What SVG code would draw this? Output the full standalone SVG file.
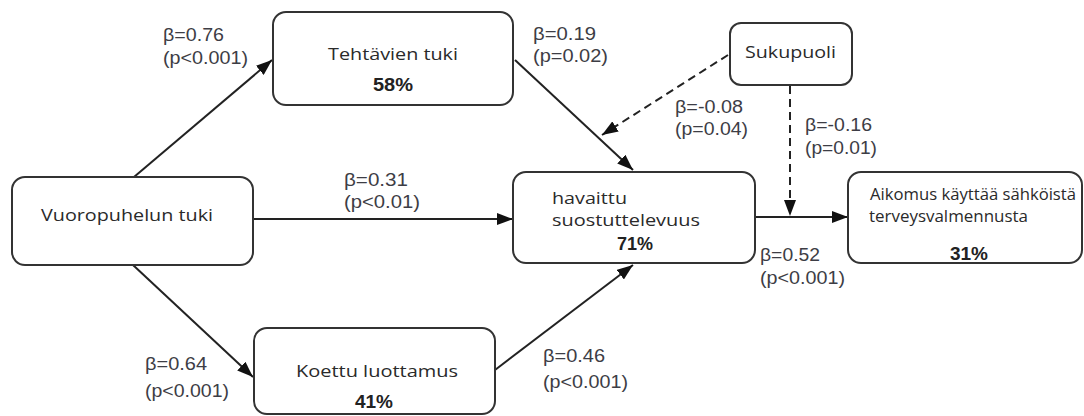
<svg xmlns="http://www.w3.org/2000/svg" width="1084" height="416" viewBox="0 0 1084 416">
<style>
.box{fill:#fff;stroke:#333;stroke-width:2}
.name{font-family:"Open Sans","Liberation Sans",sans-serif;font-size:17px;fill:#2a2a2a}
.name2{font-family:"Open Sans","Liberation Sans",sans-serif;font-size:16px;fill:#2a2a2a}
.pct{font-family:"Liberation Sans",Arial,sans-serif;font-size:18px;font-weight:bold;fill:#222}
.lbl{font-family:"Liberation Sans",Arial,sans-serif;font-size:18px;fill:#3d3d45}
.edge{fill:none;stroke:#222;stroke-width:2}
.dash{stroke-dasharray:8 5}
</style>
<defs>
<marker id="ah" markerUnits="userSpaceOnUse" markerWidth="16" markerHeight="12" viewBox="0 0 16 12" refX="16" refY="6" orient="auto">
<path d="M0,0 L16,6 L0,12 z" fill="#111"/>
</marker>
</defs>
<g id="connectors">
<line class="edge" x1="134" y1="177" x2="272" y2="60" marker-end="url(#ah)"/>
<line class="edge" x1="253" y1="219" x2="513" y2="219" marker-end="url(#ah)"/>
<line class="edge" x1="133" y1="265" x2="253" y2="377" marker-end="url(#ah)"/>
<line class="edge" x1="515" y1="60" x2="633" y2="170" marker-end="url(#ah)"/>
<line class="edge" x1="495" y1="370" x2="633" y2="265" marker-end="url(#ah)"/>
<line class="edge" x1="755" y1="217" x2="848" y2="217" marker-end="url(#ah)"/>
<line class="edge dash" x1="790" y1="86" x2="790" y2="216" marker-end="url(#ah)"/>
<line class="edge dash" x1="728" y1="55" x2="602" y2="135" marker-end="url(#ah)"/>
<text class="lbl" x="163" y="41" textLength="61" lengthAdjust="spacingAndGlyphs">β=0.76</text>
<text class="lbl" x="163" y="64" textLength="85" lengthAdjust="spacingAndGlyphs">(p&lt;0.001)</text>
<text class="lbl" x="533" y="40" textLength="63" lengthAdjust="spacingAndGlyphs">β=0.19</text>
<text class="lbl" x="533" y="62" textLength="75" lengthAdjust="spacingAndGlyphs">(p=0.02)</text>
<text class="lbl" x="675" y="113" textLength="68" lengthAdjust="spacingAndGlyphs">β=-0.08</text>
<text class="lbl" x="675" y="135" textLength="73" lengthAdjust="spacingAndGlyphs">(p=0.04)</text>
<text class="lbl" x="805" y="131" textLength="67" lengthAdjust="spacingAndGlyphs">β=-0.16</text>
<text class="lbl" x="805" y="154" textLength="72" lengthAdjust="spacingAndGlyphs">(p=0.01)</text>
<text class="lbl" x="344" y="186" textLength="64" lengthAdjust="spacingAndGlyphs">β=0.31</text>
<text class="lbl" x="344" y="208" textLength="76" lengthAdjust="spacingAndGlyphs">(p&lt;0.01)</text>
<text class="lbl" x="760" y="261" textLength="60" lengthAdjust="spacingAndGlyphs">β=0.52</text>
<text class="lbl" x="760" y="284" textLength="85" lengthAdjust="spacingAndGlyphs">(p&lt;0.001)</text>
<text class="lbl" x="145" y="370" textLength="62" lengthAdjust="spacingAndGlyphs">β=0.64</text>
<text class="lbl" x="145" y="397" textLength="84" lengthAdjust="spacingAndGlyphs">(p&lt;0.001)</text>
<text class="lbl" x="543" y="362" textLength="62" lengthAdjust="spacingAndGlyphs">β=0.46</text>
<text class="lbl" x="543" y="388" textLength="85" lengthAdjust="spacingAndGlyphs">(p&lt;0.001)</text>
</g>
<g id="tehtavien">
<rect class="box" x="273" y="12" width="240" height="93" rx="13"/>
<text class="name" x="328" y="60" textLength="130" lengthAdjust="spacingAndGlyphs">Tehtävien tuki</text>
<text class="pct" x="373" y="91" textLength="40" lengthAdjust="spacingAndGlyphs">58%</text>
</g>
<g id="sukupuoli">
<rect class="box" x="730" y="23" width="122" height="62" rx="11"/>
<text class="name" x="745" y="58" textLength="91" lengthAdjust="spacingAndGlyphs">Sukupuoli</text>
</g>
<g id="vuoropuhelun">
<rect class="box" x="12" y="177" width="241" height="88" rx="13"/>
<text class="name" x="41" y="221" textLength="172" lengthAdjust="spacingAndGlyphs">Vuoropuhelun tuki</text>
</g>
<g id="havaittu">
<rect class="box" x="513" y="172" width="242" height="91" rx="13"/>
<text class="name2" x="552" y="204" textLength="75" lengthAdjust="spacingAndGlyphs">havaittu</text>
<text class="name2" x="552" y="226" textLength="148" lengthAdjust="spacingAndGlyphs">suostuttelevuus</text>
<text class="pct" x="617" y="250" textLength="36" lengthAdjust="spacingAndGlyphs">71%</text>
</g>
<g id="aikomus">
<rect class="box" x="848" y="172" width="234" height="91" rx="13"/>
<text class="name2" x="870" y="200" textLength="206" lengthAdjust="spacingAndGlyphs">Aikomus käyttää sähköistä</text>
<text class="name2" x="869" y="222" textLength="159" lengthAdjust="spacingAndGlyphs">terveysvalmennusta</text>
<text class="pct" x="950" y="260" textLength="38" lengthAdjust="spacingAndGlyphs">31%</text>
</g>
<g id="koettu">
<rect class="box" x="254" y="328" width="241" height="86" rx="13"/>
<text class="name" x="296" y="377" textLength="162" lengthAdjust="spacingAndGlyphs">Koettu luottamus</text>
<text class="pct" x="355" y="408" textLength="38" lengthAdjust="spacingAndGlyphs">41%</text>
</g>
</svg>
